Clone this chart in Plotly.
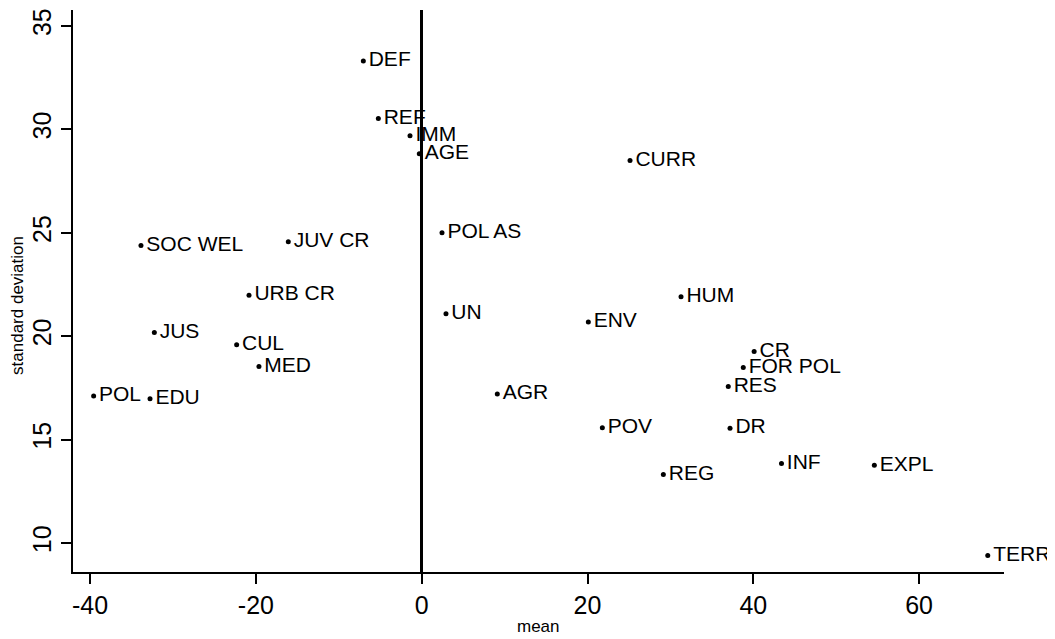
import plotly.graph_objects as go

# Data
labels = ["DEF", "REF", "IMM", "AGE", "CURR", "POL AS", "UN", "ENV", "HUM",
          "SOC WEL", "JUV CR", "URB CR", "JUS", "CUL", "MED", "POL", "EDU",
          "AGR", "RES", "POV", "DR", "REG", "INF", "EXPL", "CR", "FOR POL", "TERR"]
mean_vals = [-7.04, -5.23, -1.41, -0.29, 25.13, 2.45, 2.93, 20.1, 31.28,
             -33.86, -16.09, -20.83, -32.25, -22.32, -19.63, -39.57, -32.77,
             9.12, 36.98, 21.79, 37.19, 29.15, 43.4, 54.6, 40.1, 38.79, 68.28]
sd_vals = [33.31, 30.53, 29.69, 28.82, 28.50, 25.0, 21.09, 20.69, 21.91,
           24.39, 24.56, 21.98, 20.18, 19.59, 18.53, 17.11, 16.97,
           17.21, 17.57, 15.57, 15.55, 13.31, 13.84, 13.76, 19.26, 18.49, 9.4]

x_ticks = [-40, -20, 0, 20, 40, 60]
y_ticks = [10, 15, 20, 25, 30, 35]

FONT = "Liberation Sans, Arial, sans-serif"

fig = go.Figure()
# labels (with a slightly larger invisible marker to give the text some room)
fig.add_trace(go.Scatter(
    x=mean_vals, y=sd_vals, text=labels,
    mode="markers+text",
    textposition="middle right",
    marker=dict(color="rgba(0,0,0,0)", size=7),
    textfont=dict(family=FONT, size=21, color="black"),
    cliponaxis=False,
    hoverinfo="skip",
))
# the dots themselves
fig.add_trace(go.Scatter(
    x=mean_vals, y=sd_vals, text=labels,
    mode="markers",
    marker=dict(color="black", size=5),
    cliponaxis=False,
    hoverinfo="text",
))

# the page body adds an 8px offset, so the figure is 8px smaller
fig.update_layout(
    width=1047, height=631,
    margin=dict(l=65, r=51, t=0, b=67),
    paper_bgcolor="white", plot_bgcolor="white",
    showlegend=False,
    font=dict(family=FONT, color="black"),
)

fig.update_xaxes(
    range=[-42.06, 70.24],
    tickvals=x_ticks, ticktext=[str(v) for v in x_ticks],
    showgrid=False,
    showline=True, linecolor="black", linewidth=1.5,
    ticks="outside", ticklen=10, tickwidth=1.5, tickcolor="black",
    tickfont=dict(family=FONT, size=25, color="black"),
    zeroline=True, zerolinecolor="black", zerolinewidth=2.5,
    ticklabeloverflow="allow",
)
fig.update_yaxes(
    range=[8.60, 35.77],
    tickvals=y_ticks, ticktext=[str(v) for v in y_ticks],
    showgrid=False,
    showline=True, linecolor="black", linewidth=1.5,
    ticks="outside", ticklen=10, tickwidth=1.5, tickcolor="black",
    tickfont=dict(family=FONT, size=25, color="black"),
    tickangle=-90,
    zeroline=False,
    ticklabeloverflow="allow",
)

fig.add_annotation(
    text="mean", xref="paper", yref="paper",
    x=0.5, y=(564 - 619) / 564, xanchor="center", yanchor="middle",
    showarrow=False, font=dict(family=FONT, size=17, color="black"),
)
fig.add_annotation(
    text="standard deviation", xref="paper", yref="paper",
    x=(10 - 65) / 931, y=(564 - 297) / 564, xanchor="center", yanchor="middle",
    textangle=-90,
    showarrow=False, font=dict(family=FONT, size=17, color="black"),
)

fig.write_html("out.html")
